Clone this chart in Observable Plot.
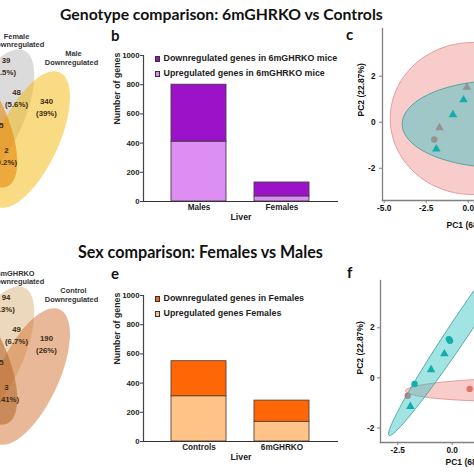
<!DOCTYPE html>
<html><head><meta charset="utf-8">
<script src="https://cdn.jsdelivr.net/npm/d3@7"></script>
<script src="https://cdn.jsdelivr.net/npm/@observablehq/plot@0.6"></script>
<style>
html,body{margin:0;padding:0;background:#fff;}
#fig{position:relative;width:474px;height:474px;overflow:hidden;background:#fff;}
#fig > *{position:absolute;}
.ttl{font-family:Lato,"Open Sans",sans-serif;font-weight:bold;color:#111;white-space:nowrap;line-height:1;}
.leg{font-family:"Liberation Sans",Arial,sans-serif;font-weight:bold;font-size:8.9px;color:#222;white-space:nowrap;line-height:1;}
.sq{width:5px;height:6px;border:0.6px solid #333;box-sizing:border-box;}
</style></head><body><div id="fig"></div>
<script>
// ---------- data ----------
const titleTop = "Genotype comparison: 6mGHRKO vs Controls";
const titleBottom = "Sex comparison: Females vs Males";
const panelLetters = ["b", "c", "e", "f"];

// bar chart b (genotype)
const genoCats = ["Males", "Females"];
const genoUp = [410, 35];
const genoDown = [390, 95];
const genoLegend = ["Downregulated genes in 6mGHRKO mice", "Upregulated genes in 6mGHRKO mice"];
// bar chart e (sex)
const sexCats = ["Controls", "6mGHRKO"];
const sexUp = [310, 135];
const sexDown = [240, 145];
const sexLegend = ["Downregulated genes in Females", "Upregulated genes Females"];
const barTicks = [0, 200, 400, 600, 800, 1000];

// Venn diagrams (visible part)
const vennTopLabels = ["Female", "Downregulated", "Male", "Downregulated"];
const vennTopNumbers = ["39", "(4.5%)", "48", "(5.6%)", "340", "(39%)", "2", "(0.2%)"];
const vennBottomLabels = ["6mGHRKO", "Downregulated", "Control", "Downregulated"];
const vennBottomNumbers = ["94", "(13%)", "49", "(6.7%)", "190", "(26%)", "3", "(0.41%)"];
const vennTopColors = ["#bdbdbd", "#f2b705", "#e8870e"];
const vennBottomColors = ["#d9b27a", "#d17131", "#b86a30"];

// PCA c (genotype)
const pcaCx = [-0.08, -1.71, -2.02, -0.28, -0.91, -1.90];
const pcaCy = [1.52, -0.24, -0.75, 0.97, 0.32, -1.16];
const pcaCgroup = ["pink", "pink", "pink", "teal", "teal", "teal"];
const pcaCshape = ["triangle", "triangle", "circle", "triangle", "triangle", "triangle"];
// PCA f (sex)
const pcaFx = [-0.15, -0.10, -1.73, -0.36, -0.97, -1.92, -2.04, 0.80];
const pcaFy = [1.55, 1.48, -0.24, 0.96, 0.33, -1.14, -0.71, -0.44];
const pcaFgroup = ["teal", "teal", "teal", "teal", "teal", "teal", "pink", "pink"];
const pcaFshape = ["circle", "circle", "circle", "triangle", "triangle", "triangle", "circle", "circle"];
const pcaXLabel = "PC1 (68.43%)";
const pcaYLabel = "PC2 (22.87%)";

// ---------- helpers ----------
const fig = document.getElementById("fig");
function place(el, left, top) { el.style.left = left + "px"; el.style.top = top + "px"; fig.appendChild(el); return el; }
function ellipse(cx, cy, ux, uy, vx, vy, n = 120) {
  return d3.range(n).map(i => { const t = 2 * Math.PI * i / n; return {x: cx + ux * Math.cos(t) + vx * Math.sin(t), y: cy + uy * Math.cos(t) + vy * Math.sin(t)}; });
}
function rotEllipse(cx, cy, a, b, deg) {
  const r = deg * Math.PI / 180;
  return ellipse(cx, cy, a * Math.cos(r), -a * Math.sin(r), b * Math.sin(r), b * Math.cos(r));
}
const SANS = "'Liberation Sans', Arial, sans-serif";

// ---------- titles ----------
function title(text, left, top, width) {
  const d = document.createElement("div"); d.className = "ttl"; d.textContent = text; d.style.fontSize = "16px";
  place(d, left, top);
  const w = d.getBoundingClientRect().width;
  d.style.fontSize = (16 * width / w) + "px";
  return d;
}
title(titleTop, 60, 5.5, 323);
title(titleBottom, 78, 243.5, 245);
const letterPos = [[111, 28], [346, 27], [111, 266], [347, 265]];
panelLetters.forEach((l, i) => { const d = document.createElement("div"); d.className = "ttl"; d.style.fontSize = "15px"; d.textContent = l; place(d, letterPos[i][0], letterPos[i][1]); });

// ---------- Venn ----------
function venn(top, colors, labels, numbers, opac) {
  const shapes = [
    rotEllipse(-8, top + 118, 75, 30, 65),
    rotEllipse(28, top + 139, 74, 30, 65),
    rotEllipse(-25, top + 118, 75, 30, -65)
  ];
  const labPos = [[16, 36], [17, 44], [73, 53], [71, 62]];
  const numPos = [[5.5, 60], [4, 72], [16, 92], [16, 104], [46, 101], [46, 113], [6, 150], [5, 162]];
  const labs = labels.map((t, i) => ({t, x: labPos[i][0] + (i === 0 && labels[0] === "6mGHRKO" ? -1 : 0), y: top + labPos[i][1]}));
  const nums = numbers.map((t, i) => ({t, x: numPos[i][0], y: top + numPos[i][1]}));
  return Plot.plot({
    width: 160, height: 237, margin: 0,
    x: {domain: [0, 160], range: [0, 160]}, y: {domain: [top, top + 237], range: [0, 237]},
    axis: null,
    style: {fontFamily: SANS, fontWeight: "bold", background: "transparent"},
    marks: [
      ...shapes.map((s, i) => Plot.line(s, {x: "x", y: "y", curve: "linear-closed", fill: colors[i], fillOpacity: opac[i], stroke: "none"})),
      Plot.text(labs, {x: "x", y: "y", text: "t", fontSize: 7.4, fill: "#333"}),
      Plot.text(nums, {x: "x", y: "y", text: "t", fontSize: 7.8, fill: "#3b2b14"}),
      Plot.text([top + 125], {x: 3, y: d => d, text: () => "5", textAnchor: "end", fontSize: 7.8, fill: "#3b2b14"})
    ]
  });
}
const vTop = venn(0, vennTopColors, vennTopLabels, vennTopNumbers, [0.55, 0.5, 0.6]);
place(vTop, 0, 0);
const vBot = venn(237, vennBottomColors, vennBottomLabels, vennBottomNumbers, [0.5, 0.5, 0.6]);
place(vBot, 0, 237);

// ---------- bar charts ----------
function barChart(cats, up, down, colUp, colDown, stroke, left, top) {
  const rows = [];
  cats.forEach((c, i) => { rows.push({cat: c, part: "up", v: up[i], col: colUp}); rows.push({cat: c, part: "down", v: down[i], col: colDown}); });
  const p = Plot.plot({
    width: 245, height: 200, marginLeft: 43, marginRight: 7, marginTop: 25, marginBottom: 29,
    style: {fontFamily: SANS, fontWeight: "bold", fontSize: "7.8px", color: "#222", background: "transparent", overflow: "visible"},
    x: {domain: cats, paddingInner: 0.335, paddingOuter: 0.34, label: null},
    y: {domain: [0, 1000], label: null},
    color: {type: "identity"},
    marks: [
      Plot.barY(rows, {x: "cat", y: "v", fill: "col", stroke: stroke, strokeWidth: 0.9}),
      Plot.frame({anchor: "left", stroke: "#444", strokeWidth: 1.2}),
      Plot.ruleY([0], {stroke: "#333", strokeWidth: 1.2}),
      Plot.axisY({ticks: barTicks, tickFormat: d => String(d), tickSize: 3, tickPadding: 1, label: null, stroke: "#444"}),
      Plot.axisX({tickSize: 0, tickPadding: 3, fontSize: 8.2, label: null}),
      Plot.text(["Liver"], {frameAnchor: "bottom", dy: 18, fontSize: 8.8, fill: "#222"}),
      Plot.text(["Number of genes"], {frameAnchor: "left", rotate: -90, dx: -26, dy: -4, fontSize: 8.8, fill: "#222"})
    ]
  });
  return place(p, left, top);
}
barChart(genoCats, genoUp, genoDown, "#dd8ef3", "#9b12c9", "#4a3a4a", 100, 30);
barChart(sexCats, sexUp, sexDown, "#ffc287", "#ff6606", "#5a4436", 100, 270);

function legend(items, colors, left, tops) {
  items.forEach((t, i) => {
    const s = document.createElement("div"); s.className = "sq"; s.style.background = colors[i]; place(s, left, tops[i]);
    const d = document.createElement("div"); d.className = "leg"; d.textContent = t; place(d, left + 8.5, tops[i] - 1.8);
  });
}
legend(genoLegend, ["#9b12c9", "#dd8ef3"], 155, [56, 70.5]);
legend(sexLegend, ["#ff6606", "#ffc287"], 155, [296, 311]);

// ---------- PCA ----------
function pca({xs, ys, groups, shapes, ells, left, top, width, height, ml, mt, mb, xdom, ydom, xlabDx, xlabDy, ylabDx, ylabDy, ytp}) {
  const pts = xs.map((x, i) => ({x, y: ys[i], g: groups[i], s: shapes[i]}));
  const sel = (g, s) => pts.filter(d => d.g === g && d.s === s);
  const col = {pink: "#e8706a", teal: "#14adad"};
  const dotMarks = g => ["circle", "triangle"].map(s => Plot.dot(sel(g, s), {x: "x", y: "y", symbol: s, r: 3.2, fill: col[g], stroke: "none"}));
  const p = Plot.plot({
    width, height, marginLeft: ml, marginRight: 10, marginTop: mt, marginBottom: mb,
    style: {fontFamily: SANS, fontWeight: "bold", fontSize: "8.3px", color: "#111", background: "transparent"},
    x: {domain: xdom, label: null}, y: {domain: ydom, label: null},
    marks: [
      Plot.line(ells.pink, {x: "x", y: "y", curve: "linear-closed", fill: "#f08080", fillOpacity: 0.4, stroke: "#e08a8a", strokeWidth: 0.8}),
      ...dotMarks("pink"),
      Plot.line(ells.teal, {x: "x", y: "y", curve: "linear-closed", fill: "#30c0c0", fillOpacity: 0.45, stroke: "#3a9a98", strokeWidth: 0.8}),
      ...dotMarks("teal"),
      Plot.frame({anchor: "left", stroke: "#808080", strokeWidth: 1.3}),
      Plot.frame({anchor: "bottom", stroke: "#808080", strokeWidth: 1.3}),
      Plot.axisX({ticks: [-5, -2.5, 0, 2.5, 5].filter(t => t >= xdom[0]), tickFormat: d => d.toFixed(1), tickSize: 3, tickPadding: 2, stroke: "#808080", label: null}),
      Plot.axisY({ticks: [-2, 0, 2], tickFormat: d => String(d), tickSize: 3, tickPadding: ytp, stroke: "#808080", label: null}),
      Plot.text([pcaXLabel], {frameAnchor: "bottom-left", textAnchor: "start", dx: xlabDx, dy: xlabDy, fontSize: 8.5}),
      Plot.text([pcaYLabel], {frameAnchor: "left", rotate: -90, dx: ylabDx, dy: ylabDy, fontSize: 8.5})
    ]
  });
  return place(p, left, top);
}
// ellipse parameters (data units): centre, first and second half-axis vectors
const ellC = {pink: ellipse(0.24, 0.16, 4.88, 0, 0, 3.3), teal: ellipse(1.9, -0.08, 5.83, 0, 0, 1.89)};
const ellF = {pink: ellipse(3.5, -0.47, 5.65, 0.05, 0, 0.47), teal: ellipse(0.4, 2.0, 3.3, 4.3, 0.4, -0.22)};
pca({xs: pcaCx, ys: pcaCy, groups: pcaCgroup, shapes: pcaCshape, ells: ellC, left: 330, top: 20, width: 215, height: 215, ml: 52, mt: 8, mb: 35,
     xdom: [-5.1, 4.0], ydom: [-3.4, 4.07], xlabDx: 64, xlabDy: 27, ylabDx: -21, ylabDy: 2, ytp: 4});
pca({xs: pcaFx, ys: pcaFy, groups: pcaFgroup, shapes: pcaFshape, ells: ellF, left: 330, top: 270, width: 208, height: 205, ml: 50, mt: 10, mb: 33,
     xdom: [-3.29, 3.5], ydom: [-2.58, 3.89], xlabDx: 65, xlabDy: 22, ylabDx: -20, ylabDy: 13, ytp: 3});
</script></body></html>
